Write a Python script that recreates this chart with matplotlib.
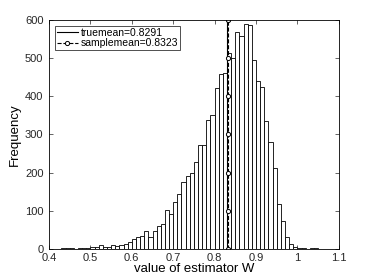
import numpy as np
import matplotlib
matplotlib.use("Agg")
import matplotlib.pyplot as plt

# ─── Data ──────────────────────────────────────────────────────────────────────

bin_left = np.arange(0.43, 1.055, 0.01)[:63]
counts = [3, 2, 2, 1, 2, 3, 2, 4, 6, 9,
          5, 5, 10, 8, 10, 13, 18, 27, 31, 35,
          47, 31, 47, 60, 66, 101, 91, 123, 143, 175,
          190, 198, 227, 272, 272, 339, 350, 421, 458, 460,
          514, 500, 568, 558, 590, 587, 495, 440, 425, 335,
          280, 213, 117, 72, 30, 14, 6, 3, 2, 1,
          2, 2, 1]
true_mean = 0.8291
sample_mean = 0.8323
mean_line_y = [0, 100, 200, 300, 400, 500, 600]

# ─── Plot ──────────────────────────────────────────────────────────────────────

plt.rcParams["font.family"] = ["Liberation Sans", "DejaVu Sans"]

fig = plt.figure(figsize=(3.74, 2.80), dpi=100)
ax = fig.add_axes([0.131, 0.111, 0.775, 0.818])

ax.bar(bin_left[:len(counts)], counts, width=0.01, align="edge",
       facecolor="white", edgecolor="black", linewidth=0.6)

ax.plot([true_mean] * len(mean_line_y), mean_line_y, color="black",
        linewidth=0.8, label="truemean=%.4f" % true_mean)
ax.plot([sample_mean] * len(mean_line_y), mean_line_y, color="black",
        linewidth=0.8, linestyle="--", marker="o", markersize=3,
        markerfacecolor="white", markeredgewidth=0.7,
        label="samplemean=%.4f" % sample_mean)

ax.set_xlim(0.4, 1.1)
ax.set_ylim(0, 600)
ax.set_xticks([0.4, 0.5, 0.6, 0.7, 0.8, 0.9, 1.0, 1.1])
ax.set_xticklabels(["0.4", "0.5", "0.6", "0.7", "0.8", "0.9", "1", "1.1"])
ax.set_yticks(range(0, 601, 100))
ax.tick_params(direction="in", top=True, right=True, length=3,
               width=0.5, labelsize=8, colors="#262626")
ax.tick_params(axis="x", pad=3)
ax.tick_params(axis="y", pad=4)
for s in ax.spines.values():
    s.set_linewidth(0.6)

ax.set_xlabel("value of estimator W", fontsize=9.5, labelpad=0)
ax.set_ylabel("Frequency", fontsize=9.5, labelpad=3)

leg = ax.legend(loc="upper left", fontsize=7.5, frameon=True, fancybox=False,
                handlelength=2.0, handletextpad=0.3, borderpad=0.15,
                labelspacing=0.05, borderaxespad=0.6)
leg.get_frame().set_edgecolor("black")
leg.get_frame().set_linewidth(0.6)

fig.savefig("out.png", dpi=100)
